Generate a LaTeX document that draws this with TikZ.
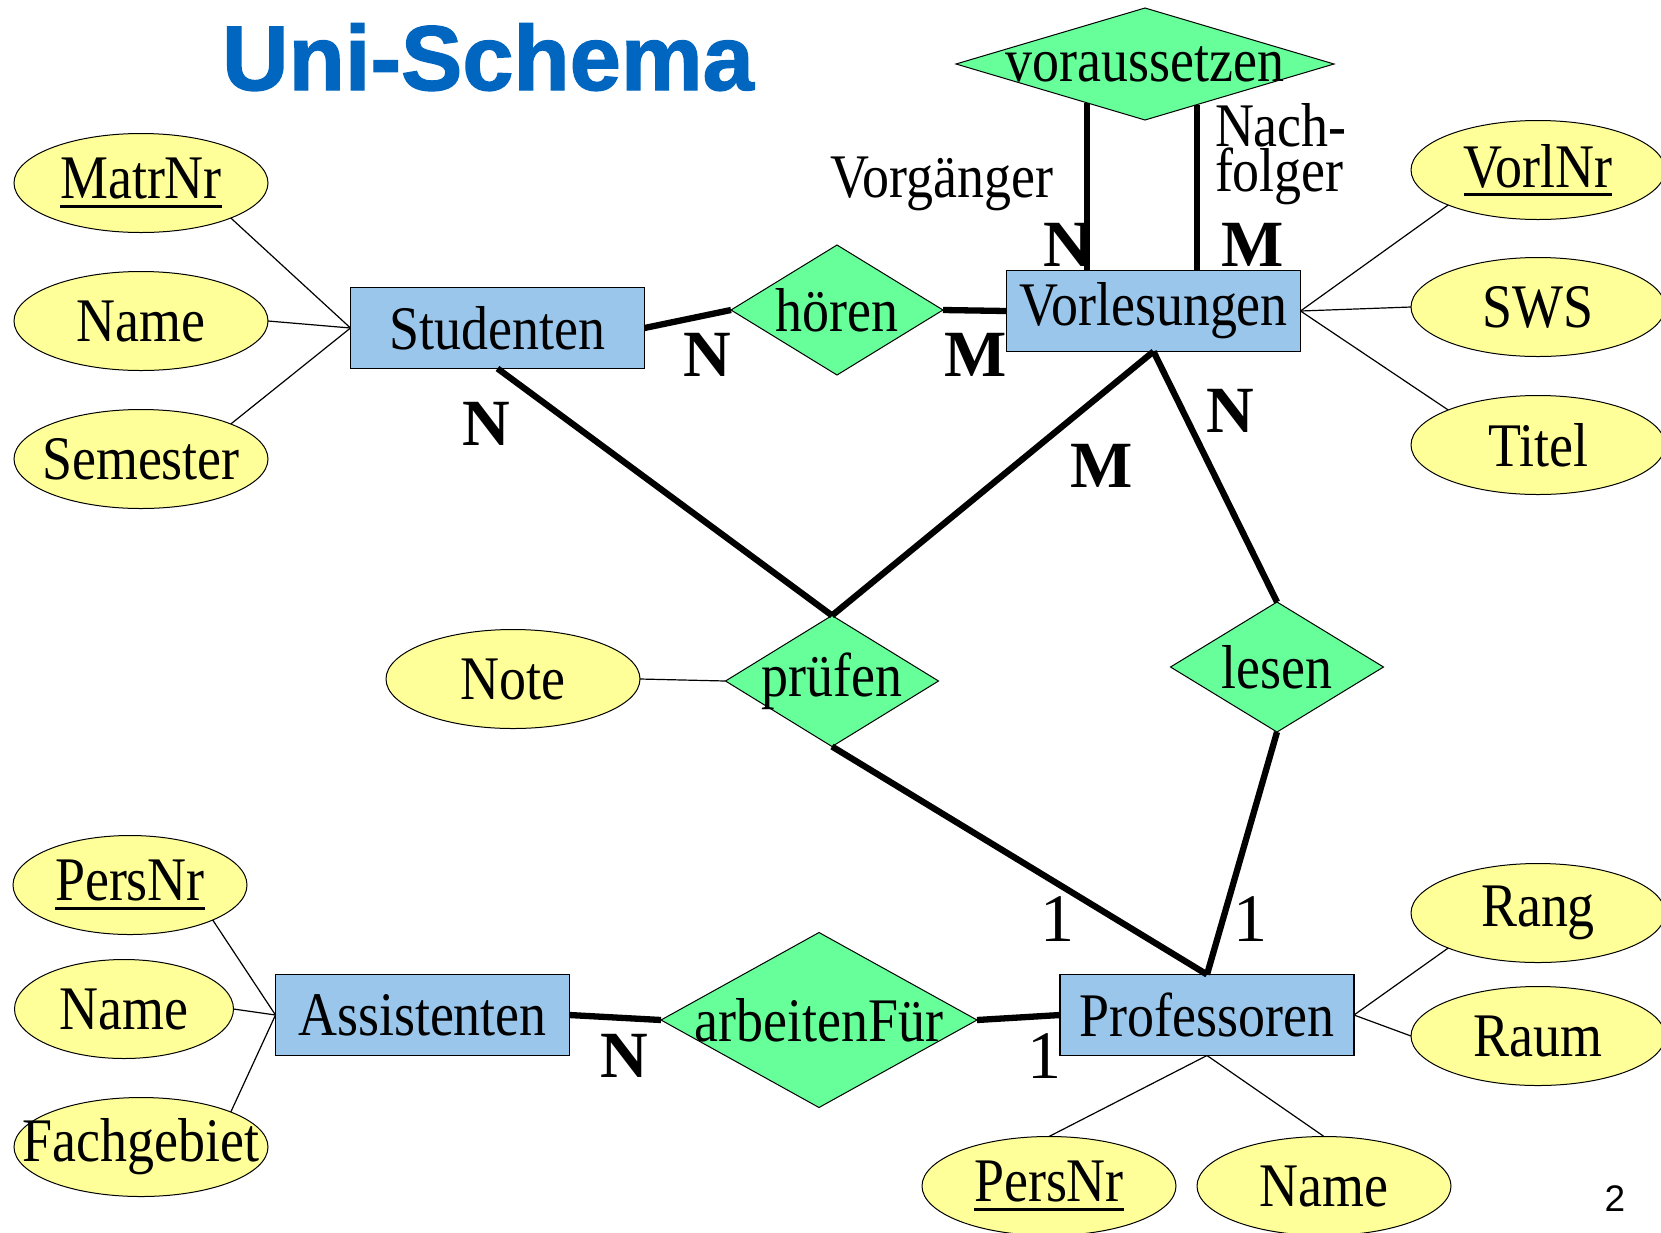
\documentclass[tikz,border=0pt]{standalone}
\usepackage{fontspec}
\setmainfont[FakeStretch=0.87]{Liberation Serif}
\newfontfamily\labfont{Liberation Serif}
\newfontfamily\titlefont{Liberation Sans}
\newfontface\titleheavy[FakeBold=1.5]{Liberation Sans Bold}
\usetikzlibrary{shapes.geometric,calc}
\definecolor{entblue}{RGB}{153,198,234}
\definecolor{relgreen}{RGB}{102,255,153}
\definecolor{attyellow}{RGB}{255,255,153}
\definecolor{titleblue}{RGB}{0,102,191}
\newcommand\keyattr[1]{\setbox0\hbox{#1}\rlap{\rule[-0.14em]{\wd0}{0.05em}}\box0}
\newcommand\zw[1]{\makebox[0pt]{#1}}
\begin{document}
\begin{tikzpicture}[x=1pt,y=-1pt,
  every node/.style={inner sep=0pt, outer sep=0pt},
  txt/.style={font=\fontsize{62}{64}\selectfont},
  entity/.style={txt, rectangle, draw=black, line width=1.3pt, fill=entblue, minimum width=294pt, minimum height=81pt},
  rel/.style={txt, diamond, draw=black, line width=1pt, fill=relgreen},
  attr/.style={txt, ellipse, draw=black, line width=1pt, fill=attyellow, minimum width=254pt, minimum height=99pt},
  attrline/.style={line width=1.2pt},
  relline/.style={line width=6.3pt},
  card/.style={font=\labfont\bfseries\fontsize{66}{66}\selectfont},
  one/.style={font=\labfont\fontsize{68}{68}\selectfont}
]
\path[fill=white] (0,0) rectangle (1661,1232);
\useasboundingbox (0,0) rectangle (1661,1232);

% entities
\node[entity] (stud) at (497.5,328) {Studenten};
\node[entity] (vorl) at (1153.5,311) {Vorlesungen};
\node[entity] (assist) at (422.5,1015) {Assistenten};
\node[entity] (prof) at (1207,1015) {Professoren};

% relationships
\node[rel, minimum width=212pt, minimum height=130pt] (hoeren) at (837,310) {\zw{hören}};
\node[rel, minimum width=378pt, minimum height=112pt] (vor) at (1145,64) {\zw{voraussetzen}};
\node[rel, minimum width=213pt, minimum height=131pt] (pruef) at (832,681) {\zw{prüfen}};
\node[rel, minimum width=213pt, minimum height=130pt] (lesen) at (1277,667) {\zw{lesen}};
\node[rel, minimum width=316pt, minimum height=175pt] (arbeit) at (819,1020) {\zw{arbeitenFür}};

% attributes
\node[attr] (matr) at (141,183) {\zw{\keyattr{MatrNr}}};
\node[attr] (sname) at (141,321) {\zw{Name}};
\node[attr] (sem) at (141,459) {\zw{Semester}};
\node[attr] (vnr) at (1538,170) {\zw{\keyattr{VorlNr}}};
\node[attr] (sws) at (1538,307) {\zw{SWS}};
\node[attr] (titel) at (1538,445) {\zw{Titel}};
\node[attr] (note) at (513,679) {\zw{Note}};
\node[attr, minimum width=234pt] (apers) at (130,885) {\zw{\keyattr{PersNr}}};
\node[attr, minimum width=219pt] (aname) at (124,1009) {\zw{Name}};
\node[attr] (fach) at (141,1147) {\zw{Fachgebiet}};
\node[attr] (rang) at (1538,913) {\zw{Rang}};
\node[attr] (raum) at (1538,1036) {\zw{Raum}};
\node[attr] (ppers) at (1049,1186) {\zw{\keyattr{PersNr}}};
\node[attr] (pname) at (1324,1186) {\zw{Name}};

% attribute connectors
\draw[attrline] (matr.south east) -- (stud.west);
\draw[attrline] (sname.east) -- (stud.west);
\draw[attrline] (sem.north east) -- (stud.west);
\draw[attrline] (vnr.south west) -- (vorl.east);
\draw[attrline] (sws.west) -- (vorl.east);
\draw[attrline] (titel.north west) -- (vorl.east);
\draw[attrline] (note.east) -- (pruef.west);
\draw[attrline] (apers.south east) -- (assist.west);
\draw[attrline] (aname.east) -- (assist.west);
\draw[attrline] (fach.north east) -- (assist.west);
\draw[attrline] (rang.south west) -- (prof.east);
\draw[attrline] (raum.west) -- (prof.east);
\draw[attrline] (ppers.north) -- (prof.south);
\draw[attrline] (pname.north) -- (prof.south);

% relationship connectors
\draw[relline] (stud.east) -- (hoeren.west);
\draw[relline] (hoeren.east) -- (vorl.west);
\draw[relline] (stud.south) -- (pruef.north);
\draw[relline] (vorl.south) -- (pruef.north);
\draw[relline] (vorl.south) -- (lesen.north);
\draw[relline] (pruef.south) -- (prof.north);
\draw[relline] (lesen.south) -- (prof.north);
\draw[relline] (assist.east) -- (arbeit.west);
\draw[relline] (arbeit.east) -- (prof.west);
\coordinate (vl) at ($(vor.west)!0.693!(vor.south)$);
\coordinate (vr) at ($(vor.south)!0.275!(vor.east)$);
\draw[relline] (vl) -- (vl |- vorl.north);
\draw[relline] (vr) -- (vr |- vorl.north);

% cardinalities
\node[card] (c1) at (707,355) {N};
\node[card] (c2) at (976,355) {M};
\node[card] (c3) at (486,424) {N};
\node[card] (c4) at (1102,466) {M};
\node[card] (c5) at (1230,411) {N};
\node[card] (c6) at (1067,245) {N};
\node[card] (c7) at (1253,245) {M};
\node[one] (c8) at (1057,919) {1};
\node[one] (c9) at (1250,919) {1};
\node[card] (c10) at (624,1056) {N};
\node[one] (c11) at (1044,1056) {1};

% role labels
\node[txt] (vg) at (942,184) {Vorgänger};
\node[txt, anchor=base west, text depth=0pt] (nf1) at (1215,146) {Nach-};
\node[txt, anchor=base west] (nf2) at (1215,191) {folger};

% title and page number
\node[font=\titleheavy\fontsize{92}{92}\selectfont, text=titleblue, anchor=base] (title) at (488,90) {Uni-Schema};
\node[font=\titlefont\fontsize{37}{37}\selectfont] (pg) at (1615,1199) {2};
\end{tikzpicture}
\end{document}
